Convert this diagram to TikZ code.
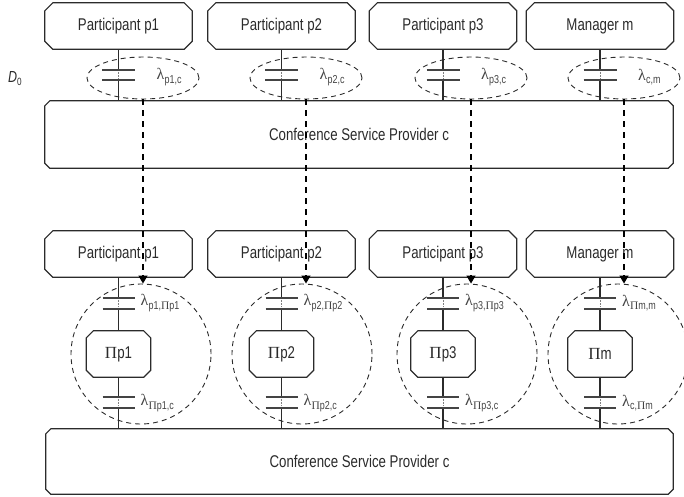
\documentclass[tikz,border=0pt]{standalone}
\usepackage{fontspec}
\setmainfont[FakeStretch=0.78]{Liberation Sans}
\newfontfamily\grkfont{Liberation Serif}
\usetikzlibrary{shapes.geometric,arrows.meta,calc}

\definecolor{ink}{HTML}{2B2B2B}
\definecolor{labink}{HTML}{444444}

% lambda with a sans subscript
\newcommand\lamsub[1]{{\fontsize{16}{16}\selectfont\grkfont λ}\kern0.2pt\raisebox{-3.4pt}{\fontsize{11.5}{12}\selectfont #1}}
\newcommand\gPi{{\grkfont Π}}

% outline of a box with cut corners around a node
\newcommand\chamferbox[2]{%
  \draw[boxline] ($(#1.north west)+(#2,0)$) -- ($(#1.north east)+(-#2,0)$)
    -- ($(#1.north east)+(0,#2)$) -- ($(#1.south east)+(0,-#2)$)
    -- ($(#1.south east)+(-#2,0)$) -- ($(#1.south west)+(#2,0)$)
    -- ($(#1.south west)+(0,-#2)$) -- ($(#1.north west)+(0,#2)$) -- cycle;}

\begin{document}
\begin{tikzpicture}[x=1pt,y=-1pt,
  box/.style={rectangle, inner sep=0pt, text=ink, font=\fontsize{17}{20}\selectfont},
  boxline/.style={draw=ink, line width=1.2pt, line join=miter},
  wire/.style={draw=ink, line width=1.1pt},
  gapline/.style={draw=gray, line width=0.6pt, densely dotted},
  plate/.style={draw=labink, line width=1.6pt},
  lab/.style={inner sep=0pt, anchor=west, text=labink},
  ell/.style={ellipse, draw=ink, line width=0.9pt, dash pattern=on 5pt off 4pt,
    minimum width=112pt, minimum height=42pt, inner sep=0pt},
  ring/.style={circle, draw=ink, line width=0.9pt, dash pattern=on 5pt off 4pt,
    minimum size=140pt, inner sep=0pt},
  flow/.style={draw=black, line width=1.4pt, dash pattern=on 6pt off 5pt,
    -{Triangle[width=9pt,length=8pt]}}
]
\useasboundingbox (0,0) rectangle (684,496);

% service provider bars
\node[box, minimum width=628pt, minimum height=67pt] (csp1) at (359,134.5) {Conference Service Provider c};
\chamferbox{csp1}{5}
\node[box, minimum width=627pt, minimum height=65pt] (csp2) at (359.5,461.5) {Conference Service Provider c};
\chamferbox{csp2}{5}

% D_0 marker
\node[inner sep=0pt, anchor=west, text=ink] (d0) at (8,79)
  {\fontsize{16}{18}\selectfont\textit{D}\raisebox{-3pt}{\fontsize{10.5}{12}\selectfont 0}};

% one column per party
\foreach \i/\x/\ax/\cx/\name/\pn/\la/\lb/\lc in {
  1/118.5/143/141/Participant p1/p1/{p1,c}/{p1,\gPi p1}/{\gPi p1,c},
  2/281.5/306/302/Participant p2/p2/{p2,c}/{p2,\gPi p2}/{\gPi p2,c},
  3/443/471/467/Participant p3/p3/{p3,c}/{p3,\gPi p3}/{\gPi p3,c},
  4/600/624/618/Manager m/m/{c,m}/{\gPi m,m}/{c,\gPi m}} {
  % top party box and its link to the provider
  \node[box, minimum width=147pt, minimum height=46pt] (t\i) at (\x,26) {\name};
  \chamferbox{t\i}{8}
  \coordinate (ka\i) at (\x,70);
  \coordinate (kb\i) at (\x,80);
  \draw[wire] (t\i.south) -- (ka\i);
  \draw[gapline] (ka\i) -- (kb\i);
  \draw[wire] (kb\i) -- (kb\i |- csp1.north);
  \draw[plate] ($(ka\i)+(-16.5,0)$) -- ($(ka\i)+(16.5,0)$);
  \draw[plate] ($(kb\i)+(-16.5,0)$) -- ($(kb\i)+(16.5,0)$);
  \node[lab] (lt\i) at (\x+38,77) {\lamsub{\la}};
  \node[ell] (e\i) at (\ax,78) {};

  % lower party box, its proxy and links
  \node[box, minimum width=147pt, minimum height=46pt] (u\i) at (\x,254) {\name};
  \chamferbox{u\i}{8}
  \node[box, minimum width=64pt, minimum height=46pt] (p\i) at (\x,354) {\gPi\pn};
  \chamferbox{p\i}{7}
  \coordinate (ma\i) at (\x,298);
  \coordinate (mb\i) at (\x,309);
  \coordinate (na\i) at (\x,397);
  \coordinate (nb\i) at (\x,408);
  \draw[wire] (u\i.south) -- (ma\i);
  \draw[gapline] (ma\i) -- (mb\i);
  \draw[wire] (mb\i) -- (p\i.north);
  \draw[wire] (p\i.south) -- (na\i);
  \draw[gapline] (na\i) -- (nb\i);
  \draw[wire] (nb\i) -- (nb\i |- csp2.north);
  \foreach \c in {ma\i,mb\i,na\i,nb\i}
    \draw[plate] ($(\c)+(-16,0)$) -- ($(\c)+(16,0)$);
  \node[lab] (lm\i) at (\x+22,303) {\lamsub{\lb}};
  \node[lab] (ln\i) at (\x+22,403) {\lamsub{\lc}};
  \node[ring] (c\i) at (\cx,354) {};

  % key transfer to the lower party
  \draw[flow] (e\i.south) -- (e\i.south |- c\i.north);
}
\end{tikzpicture}
\end{document}
